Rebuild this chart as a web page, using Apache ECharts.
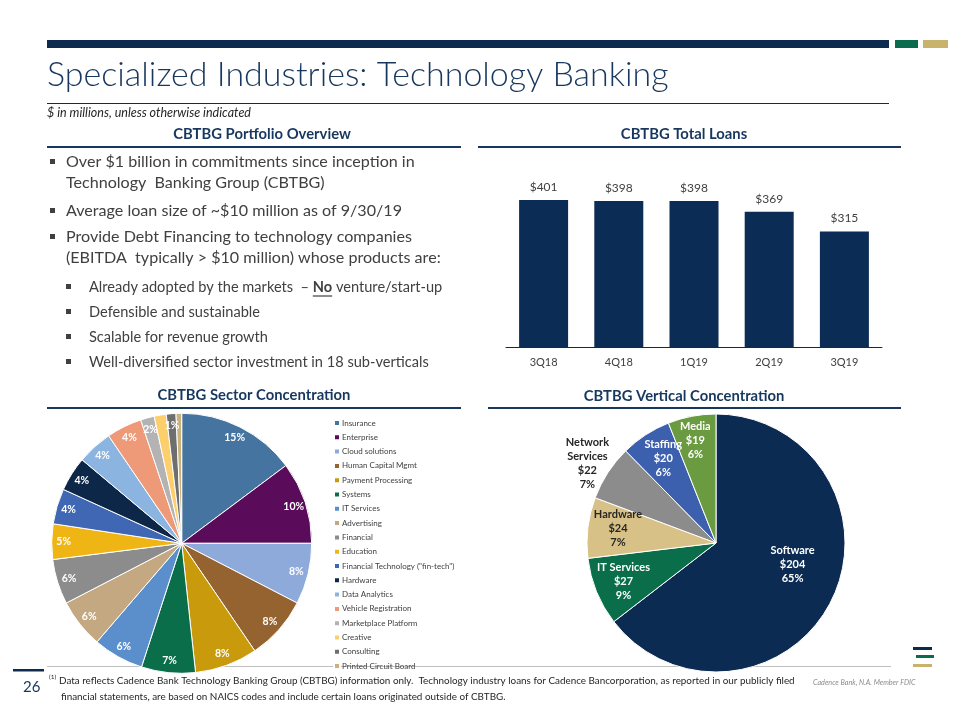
<!DOCTYPE html>
<html><head><meta charset="utf-8">
<script src="https://cdn.jsdelivr.net/npm/echarts@6/dist/echarts.min.js"></script>
<style>html,body{margin:0;padding:0;background:#fff}#c{width:960px;height:720px}</style>
</head><body><div id="c"></div>
<script>
// ---- data ----
const loanQuarters = ['3Q18','4Q18','1Q19','2Q19','3Q19'];
const loanValues = [401, 398, 398, 369, 315];

const sectorNames = ['Insurance','Enterprise','Cloud solutions','Human Capital Mgmt','Payment Processing','Systems','IT Services','Advertising','Financial','Education','Financial Technology ("fin-tech")','Hardware','Data Analytics','Vehicle Registration','Marketplace Platform','Creative','Consulting','Printed Circuit Board'];
const sectorShares = [14.8, 10.2, 7.6, 7.9, 7.8, 6.7, 6.3, 6.1, 5.6, 4.4, 4.4, 4.3, 4.4, 4.4, 1.7, 1.5, 1.2, 0.7];
const sectorLabels = ['15%','10%','8%','8%','8%','7%','6%','6%','6%','5%','4%','4%','4%','4%','2%','2%','1%',''];

const verticalNames = ['Software','IT Services','Hardware','Network\nServices','Staffing','Media'];
const verticalValues = [204, 27, 24, 22, 20, 19];
const verticalPct = ['65%','9%','7%','7%','6%','6%'];

// ---- styles ----
const NAVY = '#0c2b4e';
const HEAD = '#17375e';
const TXT = '#404040';
const FONT = 'Lato, "Noto Sans", sans-serif';
const sectorColors = ['#44749f','#5a0b5a','#8eaadb','#94632f','#c99b0c','#0a6e4a','#5a8fcc','#c4a882','#8c8c8c','#efb515','#3f67b3','#0c2747','#8cb4e0','#ee9a78','#b3b3b3','#fccf6c','#6e6e6e','#c9b27c'];
const verticalColors = ['#0c2b52','#0a6e4a','#d8c186','#8c8c8c','#3c5fae','#6b9b41'];
const verticalTextColors = ['#fff','#fff','#262626','#262626','#fff','#fff'];
const verticalOffsets = [[16,-8],[-30,13],[-31,-7],[-72,-43],[-16,-28],[-8,-36]];

function txt(x, y, text, o) {
  o = o || {};
  return {type:'text', x:x, y:y, silent:true, style:Object.assign({text:text, fill:TXT, fontFamily:FONT, fontSize:15, textVerticalAlign:'middle', textAlign:'left'}, o)};
}
function rect(x, y, w, h, fill) {
  return {type:'rect', silent:true, shape:{x:x, y:y, width:w, height:h}, style:{fill:fill}};
}
function line(x1, y1, x2, y2, stroke, w) {
  return {type:'line', silent:true, shape:{x1:x1, y1:y1, x2:x2, y2:y2}, style:{stroke:stroke, lineWidth:w}};
}
const mctx = document.createElement('canvas').getContext('2d');
function measure(text, font) { mctx.font = font; return mctx.measureText(text).width; }

const g = [];
// header bars
g.push(rect(47, 40, 842, 8, NAVY));
g.push(rect(895, 40, 23, 8, '#0a6b4d'));
g.push(rect(923, 40, 25, 8, '#c9b26b'));
g.push(txt(47, 75, 'Specialized Industries: Technology Banking', {fill:HEAD, fontSize:34, fontWeight:300}));
g.push(line(47, 103.5, 889, 103.5, '#262626', 1));
g.push(txt(47, 113, '$ in millions, unless otherwise indicated', {fontSize:12.5, fontStyle:'italic', fill:'#262626'}));
// section headers
const HS = {fill:HEAD, fontSize:14.8, fontWeight:'bold', textAlign:'center'};
g.push(txt(262, 134, 'CBTBG Portfolio Overview', HS));
g.push(txt(684, 134, 'CBTBG Total Loans', HS));
g.push(rect(47, 146, 414, 2, HEAD));
g.push(rect(478, 146, 423, 2, HEAD));
g.push(txt(254, 395, 'CBTBG Sector Concentration', HS));
g.push(txt(684, 396, 'CBTBG Vertical Concentration', HS));
g.push(rect(47, 407, 414, 2, HEAD));
g.push(rect(488, 407, 413, 2, HEAD));
// bullets
const bullets = [
  [0, 162, 'Over $1 billion in commitments since inception in', true],
  [0, 183, 'Technology  Banking Group (CBTBG)', false],
  [0, 211, 'Average loan size of ~$10 million as of 9/30/19', true],
  [0, 237, 'Provide Debt Financing to technology companies', true],
  [0, 258, '(EBITDA  typically > $10 million) whose products are:', false],
  [1, 312, 'Defensible and sustainable', true],
  [1, 337, 'Scalable for revenue growth', true],
  [1, 362, 'Well-diversified sector investment in 18 sub-verticals', true]
];
const F0 = 16.1, F1 = 14.6;
bullets.forEach(function(b){
  const lvl = b[0], y = b[1];
  const bx = lvl ? 66 : 50, tx = lvl ? 89 : 66;
  if (b[3]) g.push(rect(bx, y - 3, 5, 5, TXT));
  g.push(txt(tx, y, b[2], {fontSize: lvl ? F1 : F0}));
});
g.push(rect(66, 284, 5, 5, TXT));
const pre = 'Already adopted by the markets  – ';
g.push({type:'text', x:89, y:287, silent:true, style:{
  text: pre + '{b|No} venture/start-up', fill:TXT, fontFamily:FONT, fontSize:F1, textVerticalAlign:'middle',
  rich:{b:{fontWeight:'bold', fontSize:F1, fontFamily:FONT, fill:TXT}}}});
const ux = 89 + measure(pre, F1 + 'px Lato');
const uw = measure('No', 'bold ' + F1 + 'px Lato');
g.push(line(ux, 296, ux + uw, 296, TXT, 1.2));
// footer
g.push(line(47, 666.5, 891, 666.5, '#bfbfbf', 1));
g.push(rect(13, 669, 31, 2.5, NAVY));
g.push(txt(23, 687, '26', {fill:HEAD, fontSize:15}));
g.push(txt(49, 677, '(1)', {fontSize:6.5, fill:'#262626'}));
g.push(txt(59, 681, 'Data reflects Cadence Bank Technology Banking Group (CBTBG) information only.  Technology industry loans for Cadence Bancorporation, as reported in our publicly filed', {fontSize:9.9, fill:'#262626'}));
g.push(txt(61, 697, 'financial statements, are based on NAICS codes and include certain loans originated outside of CBTBG.', {fontSize:9.9, fill:'#262626'}));
g.push(txt(813, 683, 'Cadence Bank, N.A. Member FDIC', {fontSize:7.2, fontStyle:'italic', fill:'#8c8c8c'}));
g.push(rect(913, 647, 19, 3, NAVY));
g.push(rect(916, 655, 18, 3, '#0a6b4d'));
g.push(rect(913, 664, 19, 3, '#c9b26b'));

const sectorData = sectorNames.map(function(n, i){ return {name:n, value:sectorShares[i], itemStyle:{color:sectorColors[i]}}; });
const sectorLabelData = sectorNames.map(function(n, i){ return {name:n, value:sectorShares[i], label:{formatter:sectorLabels[i]}}; });
const verticalData = verticalNames.map(function(n, i){
  return {name:n, value:verticalValues[i], itemStyle:{color:verticalColors[i]},
    label:{color:verticalTextColors[i], formatter: n + '\n$' + verticalValues[i] + '\n' + verticalPct[i]}};
});

const chart = echarts.init(document.getElementById('c'), null, {renderer:'canvas'});
chart.setOption({
  animation:false,
  backgroundColor:'#ffffff',
  textStyle:{fontFamily:FONT},
  graphic:{elements:g},
  grid:{left:506, right:78, top:182, bottom:373},
  xAxis:{type:'category', data:loanQuarters,
    axisLine:{lineStyle:{color:'#262626', width:1}}, axisTick:{show:false},
    axisLabel:{color:TXT, fontSize:11, margin:10, fontFamily:FONT}},
  yAxis:{type:'value', min:0, max:450, show:false, splitLine:{show:false}},
  legend:{orient:'vertical', left:333, top:418, itemWidth:6, itemHeight:6, itemGap:4.3, padding:0,
    icon:'rect', data:sectorNames, selectedMode:false,
    textStyle:{fontSize:8, color:TXT, lineHeight:10, fontFamily:FONT, padding:[0,0,0,-3]}},
  series:[
    {type:'bar', data:loanValues, barWidth:49, itemStyle:{color:'#0b2d55'},
      label:{show:true, position:'top', distance:7, color:TXT, fontSize:12, fontFamily:FONT, formatter:function(p){return '$' + p.value;}}},
    {type:'pie', name:'sector', center:[181.7, 543.3], radius:[0, 130], startAngle:90, clockwise:true,
      data:sectorData, label:{show:false}, labelLine:{show:false},
      itemStyle:{borderColor:'#fff', borderWidth:1}, emphasis:{disabled:true}},
    {type:'pie', name:'sectorLabels', center:[181.7, 543.3], radius:[100, 130], startAngle:90, clockwise:true,
      data:sectorLabelData, silent:true, itemStyle:{color:'rgba(0,0,0,0)'}, labelLine:{show:false},
      label:{show:true, position:'inside', color:'#fff', fontSize:10.5, fontWeight:'bold', fontFamily:FONT}, emphasis:{disabled:true}},
    {type:'pie', name:'vertical', center:[716, 543], radius:[0, 129], startAngle:90, clockwise:true,
      data:verticalData, labelLine:{show:false}, emphasis:{disabled:true},
      itemStyle:{borderColor:'#fff', borderWidth:1},
      label:{show:true, position:'inside', fontSize:11, fontWeight:'bold', lineHeight:14, fontFamily:FONT, align:'center'},
      labelLayout:function(p){ const o = verticalOffsets[p.dataIndex]; return {dx:o[0], dy:o[1]}; }}
  ]
});
</script></body></html>
